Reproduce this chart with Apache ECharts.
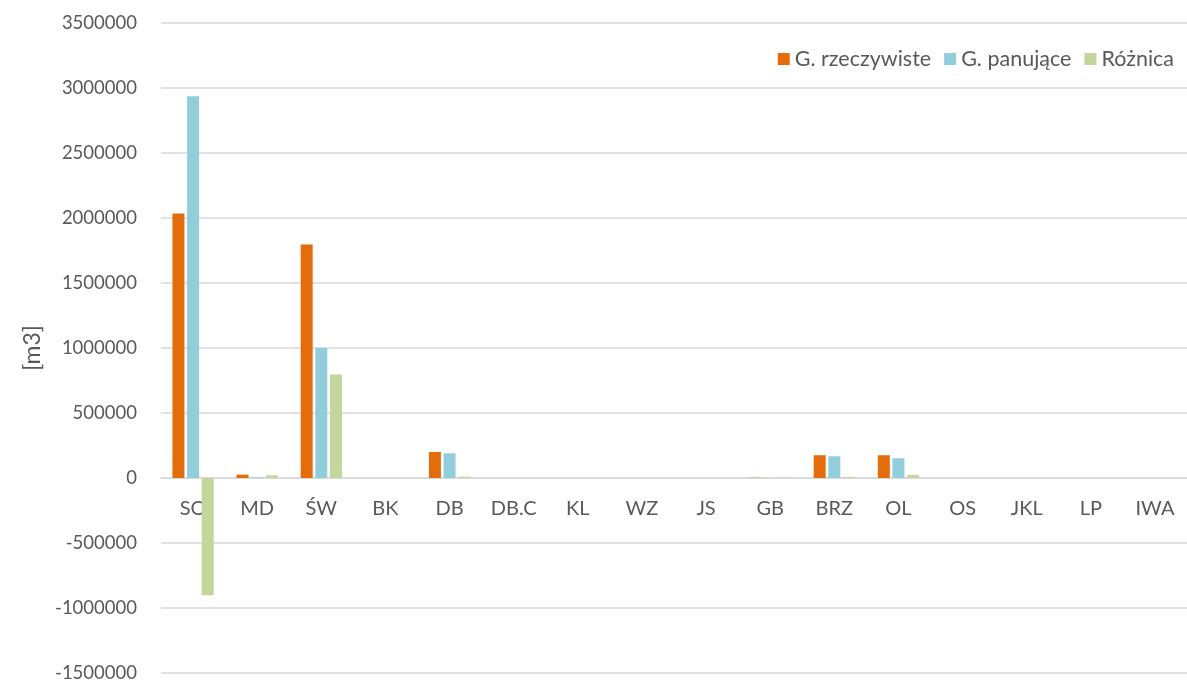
<!DOCTYPE html>
<html>
<head>
<meta charset="utf-8">
<script src="https://cdn.jsdelivr.net/npm/echarts@6/dist/echarts.min.js"></script>
<style>
    html, body {margin: 0; padding: 0; background: #ffffff;}
    #chart {width: 1187px; height: 680px;}
</style>
</head>
<body>
<div id="chart"></div>
<script>
const categories = ['SO', 'MD', 'ŚW', 'BK', 'DB', 'DB.C', 'KL', 'WZ', 'JS', 'GB', 'BRZ', 'OL', 'OS', 'JKL', 'LP', 'IWA'];
const rzeczywiste = [2034000, 26000, 1797000, 0, 200000, 0, 0, 0, 0, 2000, 175000, 175000, 0, 0, 0, 0];
const panujace = [2936000, 5000, 1000000, 0, 190000, 0, 0, 0, 0, 0, 167000, 152000, 0, 0, 0, 0];
const roznica = [-902000, 21000, 797000, 0, 10000, 0, 0, 0, 0, 2000, 8000, 23000, 0, 0, 0, 0];

const myChart = echarts.init(document.getElementById('chart'));
const font = 'Lato, "Open Sans", sans-serif';

const option = {
    backgroundColor: '#ffffff',
    animation: false,
    textStyle: {fontFamily: font},
    legend: {
        top: 43,
        right: 8,
        itemWidth: 12,
        itemHeight: 12,
        itemGap: 13,
        icon: 'rect',
        textStyle: {color: '#595959', fontSize: 21.5, fontFamily: font},
        data: ['G. rzeczywiste', 'G. panujące', 'Różnica']
    },
    grid: {
        top: 23,
        left: 161,
        right: 0,
        bottom: 7,
        outerBoundsMode: 'none',
        containLabel: false
    },
    xAxis: {
        type: 'category',
        data: categories,
        position: 'bottom',
        // zero line sits 195 px above the bottom of the plot
        offset: -195,
        axisLine: {onZero: false, lineStyle: {color: '#d9d9d9', width: 1.5}},
        axisTick: {show: false},
        axisLabel: {
            color: '#595959',
            fontSize: 20,
            fontFamily: font,
            margin: 21
        }
    },
    yAxis: {
        type: 'value',
        min: -1500000,
        max: 3500000,
        interval: 500000,
        name: '[m3]',
        nameLocation: 'middle',
        nameGap: 67,
        nameTextStyle: {color: '#595959', fontSize: 23, fontFamily: font},
        axisLine: {show: false},
        axisTick: {show: false},
        splitLine: {lineStyle: {color: '#d9d9d9', width: 1.5}},
        axisLabel: {
            color: '#595959',
            fontSize: 18.5,
            fontFamily: font,
            margin: 24,
            formatter: function (value) {
                return String(value);
            }
        }
    },
    series: [
        {
            name: 'G. rzeczywiste',
            type: 'bar',
            data: rzeczywiste,
            barWidth: 12,
            barGap: '22%',
            itemStyle: {color: '#E46C0A'}
        },
        {
            name: 'G. panujące',
            type: 'bar',
            data: panujace,
            barWidth: 12,
            barGap: '22%',
            itemStyle: {color: '#92CDDC'}
        },
        {
            name: 'Różnica',
            type: 'bar',
            data: roznica,
            barWidth: 12,
            barGap: '22%',
            itemStyle: {color: '#C3D69B'}
        }
    ]
};

myChart.setOption(option);
window.onresize = myChart.resize;
</script>
</body>
</html>
